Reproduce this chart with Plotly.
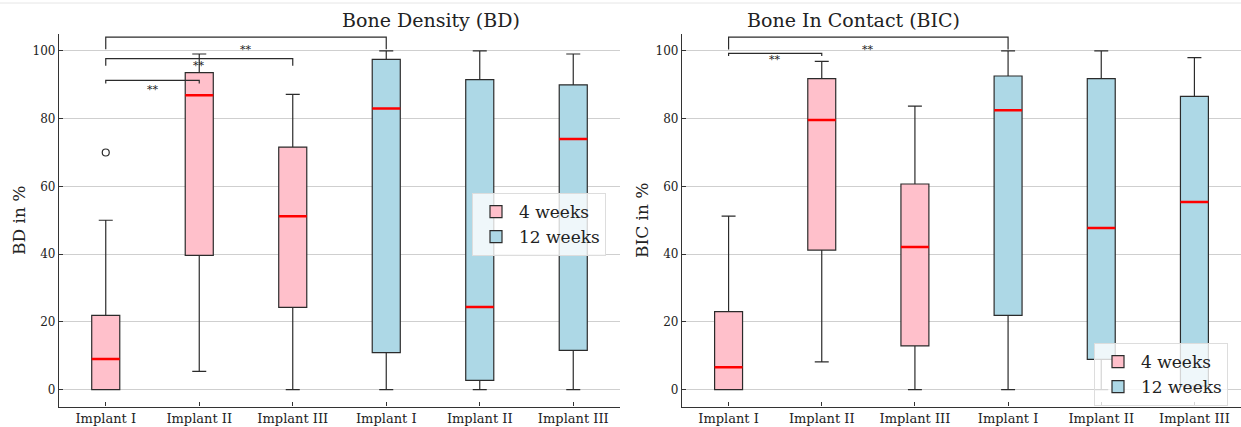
import plotly.graph_objects as go

# ---------------- data ----------------
positions = [1, 2, 3, 4, 5, 6]
tick_labels = ["Implant I", "Implant II", "Implant III", "Implant I", "Implant II", "Implant III"]
pos_4w = [1, 2, 3]
pos_12w = [4, 5, 6]

# Bone Density (BD)
bd_4w_low = [0, 5.4, 0]
bd_4w_q1 = [0, 39.6, 24.3]
bd_4w_med = [9.0, 86.9, 51.2]
bd_4w_q3 = [21.9, 93.6, 71.6]
bd_4w_high = [50, 99.1, 87.2]
bd_12w_low = [0, 0, 0]
bd_12w_q1 = [10.9, 2.7, 11.6]
bd_12w_med = [83.0, 24.4, 74.0]
bd_12w_q3 = [97.5, 91.5, 90.0]
bd_12w_high = [100, 100, 99.1]
bd_outlier_x = [1]
bd_outlier_y = [70]
# significance brackets: (x1, x2, top, bottom, star_y)
bd_brackets_x1 = [1, 1, 1]
bd_brackets_x2 = [4, 3, 2]
bd_brackets_top = [104.1, 97.7, 91.3]
bd_brackets_bottom = [100.5, 95.6, 90.4]
bd_star_y = [100.5, 95.7, 88.5]

# Bone In Contact (BIC)
bic_4w_low = [0, 8.2, 0]
bic_4w_q1 = [0, 41.2, 12.9]
bic_4w_med = [6.6, 79.6, 42.1]
bic_4w_q3 = [23.0, 91.8, 60.7]
bic_4w_high = [51.2, 96.9, 83.7]
bic_12w_low = [0, 0, 0]
bic_12w_q1 = [21.9, 8.9, 1.0]
bic_12w_med = [82.5, 47.7, 55.4]
bic_12w_q3 = [92.6, 91.8, 86.6]
bic_12w_high = [100, 100, 98.0]
bic_brackets_x1 = [1, 1]
bic_brackets_x2 = [4, 2]
bic_brackets_top = [104.1, 99.3]
bic_brackets_bottom = [100.4, 98.5]
bic_star_y = [100.5, 97.5]

# ---------------- style ----------------
FONT = "DejaVu Serif"
PINK = "#FFC0CB"
BLUE = "#ADD8E6"
EDGE = "#2b2b2b"
BOX_W = 0.3

fig = go.Figure()


def add_panel(xa, ya, legend, low4, q14, med4, q34, hi4, low12, q112, med12, q312, hi12,
              bx1, bx2, btop, bbot, stary, out_x=None, out_y=None):
    for name, pos, low, q1, med, q3, hi, col in [
        ("4 weeks", pos_4w, low4, q14, med4, q34, hi4, PINK),
        ("12 weeks", pos_12w, low12, q112, med12, q312, hi12, BLUE),
    ]:
        fig.add_trace(go.Box(
            x=pos, q1=q1, median=med, q3=q3, lowerfence=low, upperfence=hi,
            name=name, width=BOX_W, whiskerwidth=0.5, fillcolor=col,
            line=dict(color=EDGE, width=1.2), boxpoints=False,
            xaxis=xa, yaxis=ya, legend=legend, showlegend=True,
        ))
        # red median lines
        for p, m in zip(pos, med):
            fig.add_trace(go.Scatter(
                x=[p - BOX_W / 2, p + BOX_W / 2], y=[m, m], mode="lines",
                line=dict(color="#ff0000", width=2.5), showlegend=False,
                hoverinfo="skip", xaxis=xa, yaxis=ya,
            ))
    if out_x:
        fig.add_trace(go.Scatter(
            x=out_x, y=out_y, mode="markers",
            marker=dict(symbol="circle-open", size=7, color=EDGE, line=dict(width=1.2)),
            showlegend=False, xaxis=xa, yaxis=ya,
        ))
    for x1, x2, t, b, s in zip(bx1, bx2, btop, bbot, stary):
        fig.add_trace(go.Scatter(
            x=[x1, x1, x2, x2], y=[b, t, t, b], mode="lines",
            line=dict(color=EDGE, width=1.2), showlegend=False,
            hoverinfo="skip", xaxis=xa, yaxis=ya,
        ))
        fig.add_annotation(x=(x1 + x2) / 2, y=s, xref=xa, yref=ya, text="**",
                           showarrow=False, font=dict(family=FONT, size=11, color="#222"))


add_panel("x", "y", "legend", bd_4w_low, bd_4w_q1, bd_4w_med, bd_4w_q3, bd_4w_high,
          bd_12w_low, bd_12w_q1, bd_12w_med, bd_12w_q3, bd_12w_high,
          bd_brackets_x1, bd_brackets_x2, bd_brackets_top, bd_brackets_bottom, bd_star_y,
          bd_outlier_x, bd_outlier_y)
add_panel("x2", "y2", "legend2", bic_4w_low, bic_4w_q1, bic_4w_med, bic_4w_q3, bic_4w_high,
          bic_12w_low, bic_12w_q1, bic_12w_med, bic_12w_q3, bic_12w_high,
          bic_brackets_x1, bic_brackets_x2, bic_brackets_top, bic_brackets_bottom, bic_star_y)

W, H = 1241, 427
ydom = [20.5 / H, 1 - 34 / H]
xcommon = dict(range=[0.5, 6.5], tickvals=positions, ticktext=tick_labels,
               showgrid=False, zeroline=False, showline=True, linecolor="#333",
               linewidth=1.2, ticks="inside", ticklen=4, tickcolor="#333",
               tickfont=dict(family=FONT, size=13, color="#222"), automargin=False)
ycommon = dict(range=[-5, 105], tickvals=[0, 20, 40, 60, 80, 100],
               showgrid=True, gridcolor="#cfcfcf", gridwidth=1, zeroline=False,
               showline=True, linecolor="#333", linewidth=1.2, ticks="inside",
               ticklen=4, tickcolor="#333",
               tickfont=dict(family=FONT, size=12, color="#222"), automargin=False,
               domain=ydom)

legend_common = dict(font=dict(family=FONT, size=17, color="#222"),
                     bgcolor="rgba(255,255,255,0.8)", bordercolor="#dddddd",
                     borderwidth=1, xanchor="left", yanchor="top",
                     itemclick=False, tracegroupgap=0, itemwidth=36)

ytitle_font = dict(family=FONT, size=17, color="#222")
fig.update_layout(
    width=W, height=H, margin=dict(l=0, r=0, t=0, b=0),
    paper_bgcolor="white", plot_bgcolor="white", boxmode="overlay",
    xaxis=dict(domain=[59 / W, 620 / W], anchor="y", **xcommon),
    xaxis2=dict(domain=[682 / W, 1.0], anchor="y2", **xcommon),
    yaxis=dict(anchor="x", title=dict(text="BD in %", font=ytitle_font, standoff=2), **ycommon),
    yaxis2=dict(anchor="x2", title=dict(text="BIC in %", font=ytitle_font, standoff=2), **ycommon),
    legend=dict(x=472 / W, y=1 - 193 / H, **legend_common),
    legend2=dict(x=1094 / W, y=1 - 343 / H, **legend_common),
    font=dict(family=FONT),
    shapes=[dict(type="line", xref="paper", yref="paper", x0=0, x1=1,
                 y0=1 - 3 / H, y1=1 - 3 / H, line=dict(color="#e6e6e6", width=1))],
    annotations=list(fig.layout.annotations) + [
        dict(text="Bone Density (BD)", x=(59 + 620) / 2 / W, y=1 - 20 / H, xref="paper",
             yref="paper", yanchor="middle", showarrow=False,
             font=dict(family=FONT, size=19, color="#222")),
        dict(text="Bone In Contact (BIC)", x=(682 + 1241) / 2 / W, y=1 - 20 / H, xref="paper",
             yref="paper", yanchor="middle", showarrow=False,
             font=dict(family=FONT, size=19, color="#222")),
    ],
)

fig.write_html("out.html", config={"displayModeBar": False},
               post_script="document.body.style.margin='0';document.body.style.overflow='hidden';")
